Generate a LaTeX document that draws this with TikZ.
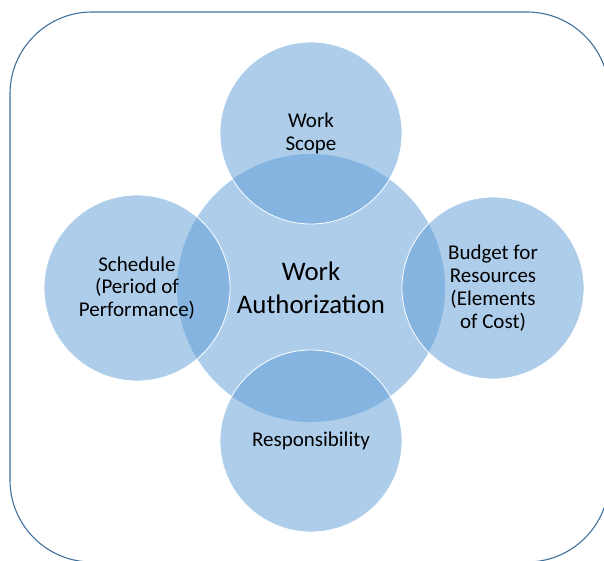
\documentclass[tikz,border=0pt]{standalone}
\usepackage{fontspec}
\setmainfont{Carlito}
\definecolor{bubblue}{RGB}{91,155,213}
\definecolor{frameblue}{RGB}{65,113,156}
\begin{document}
\begin{tikzpicture}[x=1pt,y=-1pt,
  frame/.style={draw=frameblue, line width=1.1pt, rounded corners=82pt},
  core/.style={circle, fill=bubblue, fill opacity=0.5, text opacity=1, inner sep=0pt,
    minimum size=268pt, align=center, font=\fontsize{26.8}{33}\selectfont},
  bubble/.style={circle, fill=bubblue, fill opacity=0.5, text opacity=1, draw=white,
    draw opacity=1, line width=0.8pt, inner sep=0pt, minimum size=182pt, align=center,
    font=\fontsize{21}{22.8}\selectfont}]
\useasboundingbox (0,0) rectangle (604,560);
\draw[frame] (10,12) rectangle (609,562);
\node[core] (wa) at (311,288) {Work\\Authorization};
\node[bubble] (scope) at (311,133) {Work\\Scope};
\node[bubble, minimum size=186pt] (sched) at (137,288) {Schedule\\(Period of\\Performance)};
\node[bubble] (budget) at (493,288) {Budget for\\Resources\\(Elements\\of Cost)};
\node[bubble] (resp) at (311,441) {Responsibility};
\end{tikzpicture}
\end{document}
